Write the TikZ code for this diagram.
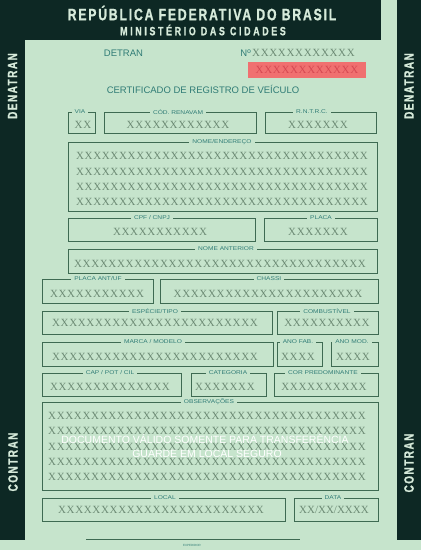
\documentclass[tikz,border=0pt]{standalone}
\usepackage{fontspec}
\setmainfont{Liberation Sans}
\newfontfamily\headfont{Liberation Sans}[FakeStretch=0.74,LetterSpace=11,FakeBold=1]
\newfontfamily\labelfont{Liberation Sans}[FakeStretch=1.2]
\newfontfamily\xfont{Liberation Serif}[LetterSpace=6]
\definecolor{formbg}{RGB}{198,228,204}
\definecolor{formdark}{RGB}{13,40,36}
\definecolor{headlight}{RGB}{214,234,218}
\definecolor{boxline}{RGB}{62,106,82}
\definecolor{labelteal}{RGB}{48,124,118}
\definecolor{xgray}{RGB}{108,138,116}
\definecolor{redbox}{RGB}{240,112,112}
\definecolor{redtext}{RGB}{214,72,82}

\begin{document}
\begin{tikzpicture}[x=1pt,y=-1pt,
		fieldbox/.style={draw=boxline,line width=0.9pt},
		fieldlabel/.style={fill=formbg,text=labelteal,inner xsep=3pt,inner ysep=1pt,font=\labelfont\fontsize{5.5}{6}\selectfont},
		xtext/.style={text=xgray,inner sep=0pt,font=\xfont\fontsize{11}{12}\selectfont},
		headtext/.style={text=headlight,inner sep=0pt},
		sidetext/.style={text=headlight,inner sep=0pt,rotate=90,font=\headfont\bfseries\fontsize{13.5}{14}\selectfont},
		titletext/.style={text=labelteal,inner sep=0pt,font=\fontsize{9.5}{10}\selectfont},
		warntext/.style={text=white,inner sep=0pt,font=\fontsize{10.5}{11}\selectfont}]
		\useasboundingbox (0,0) rectangle (421,550);
		\fill[formbg] (0,0) rectangle (421,550);
		\fill[formdark] (0,0) rectangle (381,40);
		\fill[formdark] (0,0) rectangle (25,540);
		\fill[formdark] (397,0) rectangle (421,540);
		\node[headtext,font=\headfont\bfseries\fontsize{16.5}{17}\selectfont] (republica) at (202,13) {REPÚBLICA FEDERATIVA DO BRASIL};
		\node[headtext,font=\headfont\bfseries\fontsize{12}{12}\selectfont\addfontfeatures{LetterSpace=22}] (ministerio) at (203,30) {MINISTÉRIO DAS CIDADES};
		\node[sidetext] (denatranl) at (12.5,86) {DENATRAN};
		\node[sidetext] (denatranr) at (409,86) {DENATRAN};
		\node[sidetext] (contranl) at (13,462) {CONTRAN};
		\node[sidetext] (contranr) at (409,463) {CONTRAN};
		\node[titletext] (detran) at (123.5,53) {DETRAN};
		\node[titletext,anchor=east] (numero) at (251,53) {Nº};
		\node[xtext,anchor=west] (numxs) at (252,53) {XXXXXXXXXXXX};
		\fill[redbox] (248,62) rectangle (366,78);
		\node[xtext,text=redtext] (numred) at (307,70) {XXXXXXXXXXXX};
		\node[titletext] (certificado) at (203,89) {CERTIFICADO DE REGISTRO DE VEÍCULO};
		\draw[fieldbox] (68,112) rectangle (95,133);
		\draw[fieldbox] (104,112) rectangle (256,133);
		\draw[fieldbox] (265,112) rectangle (376,133);
		\draw[fieldbox] (68,142) rectangle (377,211);
		\draw[fieldbox] (68,218) rectangle (255,241);
		\draw[fieldbox] (264,218) rectangle (377,241);
		\draw[fieldbox] (68,249) rectangle (377,273);
		\draw[fieldbox] (42,279) rectangle (153,303);
		\draw[fieldbox] (160,279) rectangle (378,303);
		\draw[fieldbox] (42,311) rectangle (272,334);
		\draw[fieldbox] (277,311) rectangle (378,334);
		\draw[fieldbox] (42,342) rectangle (273,366);
		\draw[fieldbox] (277,342) rectangle (322,366);
		\draw[fieldbox] (331,342) rectangle (378,366);
		\draw[fieldbox] (42,373) rectangle (181,396);
		\draw[fieldbox] (191,373) rectangle (266,396);
		\draw[fieldbox] (274,373) rectangle (378,396);
		\draw[fieldbox] (42,402) rectangle (378,490);
		\draw[fieldbox] (42,498) rectangle (285,521);
		\draw[fieldbox] (294,498) rectangle (378,521);
		\node[fieldlabel] (lblvia) at (80,112) {VIA};
		\node[fieldlabel] (lblrenavam) at (178,112) {CÓD. RENAVAM};
		\node[fieldlabel] (lblrntrc) at (312,112) {R.N.T.R.C.};
		\node[fieldlabel] (lblnome) at (222,142) {NOME/ENDEREÇO};
		\node[fieldlabel] (lblcpf) at (152,218) {CPF / CNPJ};
		\node[fieldlabel] (lblplaca) at (321,218) {PLACA};
		\node[fieldlabel] (lblanterior) at (226,249) {NOME ANTERIOR};
		\node[fieldlabel] (lblplacaant) at (98,279) {PLACA ANT/UF};
		\node[fieldlabel] (lblchassi) at (269,279) {CHASSI};
		\node[fieldlabel] (lblespecie) at (155,311) {ESPÉCIE/TIPO};
		\node[fieldlabel] (lblcombustivel) at (327,311) {COMBUSTÍVEL};
		\node[fieldlabel] (lblmarca) at (153,342) {MARCA / MODELO};
		\node[fieldlabel] (lblanofab) at (298,342) {ANO FAB.};
		\node[fieldlabel] (lblanomod) at (352,342) {ANO MOD.};
		\node[fieldlabel] (lblcap) at (110,373) {CAP / POT / CIL};
		\node[fieldlabel] (lblcategoria) at (228,373) {CATEGORIA};
		\node[fieldlabel] (lblcor) at (323,373) {COR PREDOMINANTE};
		\node[fieldlabel] (lblobs) at (209,402) {OBSERVAÇÕES};
		\node[fieldlabel] (lbllocal) at (165,498) {LOCAL};
		\node[fieldlabel] (lbldata) at (333,498) {DATA};
		\node[xtext] (via) at (83,125) {XX};
		\node[xtext] (renavam) at (178,125) {XXXXXXXXXXXX};
		\node[xtext] (rntrc) at (318,125) {XXXXXXX};
		\foreach \y [count=\i] in {156,172,187,202}
			\node[xtext] (nome\i) at (222,\y) {XXXXXXXXXXXXXXXXXXXXXXXXXXXXXXXXXX};
		\node[xtext] (cpf) at (160,232) {XXXXXXXXXXX};
		\node[xtext] (placa) at (318,232) {XXXXXXX};
		\node[xtext] (anterior) at (220,264) {XXXXXXXXXXXXXXXXXXXXXXXXXXXXXXXXXX};
		\node[xtext] (placaant) at (97,294) {XXXXXXXXXXX};
		\node[xtext] (chassi) at (268,294) {XXXXXXXXXXXXXXXXXXXXXX};
		\node[xtext] (especie) at (155,323) {XXXXXXXXXXXXXXXXXXXXXXXX};
		\node[xtext] (combustivel) at (327,323) {XXXXXXXXXX};
		\node[xtext] (marca) at (155,357) {XXXXXXXXXXXXXXXXXXXXXXXX};
		\node[xtext] (anofab) at (298,357) {XXXX};
		\node[xtext] (anomod) at (353,357) {XXXX};
		\node[xtext] (cap) at (110,387) {XXXXXXXXXXXXXX};
		\node[xtext] (categoria) at (225,387) {XXXXXXX};
		\node[xtext] (cor) at (324,387) {XXXXXXXXXX};
		\foreach \y [count=\i] in {416,431,447,462,477}
			\node[xtext] (obs\i) at (207,\y) {XXXXXXXXXXXXXXXXXXXXXXXXXXXXXXXXXXXXX};
		\node[warntext] (aviso1) at (205,439) {DOCUMENTO VÁLIDO SOMENTE PARA TRANSFERÊNCIA};
		\node[warntext] (aviso2) at (207,454) {GUARDE EM LOCAL SEGURO};
		\node[xtext] (local) at (161,510) {XXXXXXXXXXXXXXXXXXXXXXXX};
		\node[xtext,font=\xfont\fontsize{11}{12}\selectfont\addfontfeatures{LetterSpace=0}] (data) at (334,510) {XX/XX/XXXX};
		\coordinate (assinaa) at (86,539);
		\coordinate (assinab) at (300,539);
		\draw[boxline,line width=0.8pt] (assinaa) -- (assinab);
		\node[text=labelteal,inner sep=0pt,font=\fontsize{3}{3}\selectfont] (expedidor) at (192,545) {EXPEDIDOR};
	\end{tikzpicture}
\end{document}
